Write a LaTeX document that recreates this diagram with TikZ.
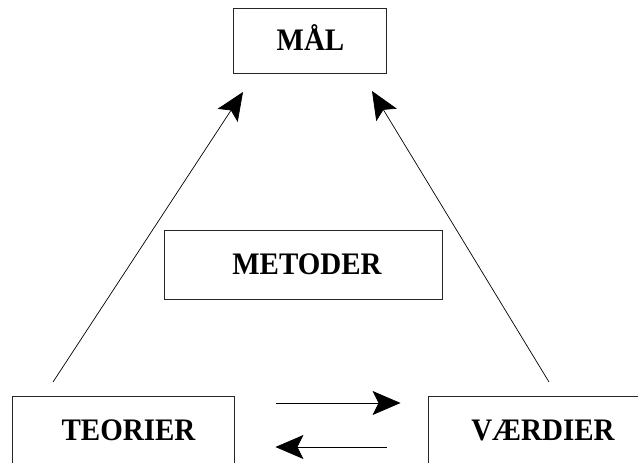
\documentclass[tikz,border=0pt]{standalone}
\usepackage{fontspec}
\setmainfont{Liberation Serif}
\usetikzlibrary{arrows.meta}
% slightly tall bold caption text for the boxes
\newcommand{\tallcaps}[1]{\scalebox{1}[1.08]{#1}}
\begin{document}
\begin{tikzpicture}[x=1pt,y=-1pt,
  box/.style={draw=black!85, line width=0.9pt, rectangle, inner sep=0pt,
    text height=20.5pt, text depth=0pt,
    font=\fontsize{29}{29}\selectfont\bfseries},
  arr/.style={line width=0.7pt,
    -{Stealth[length=28pt,width=24pt,inset=6pt]}}]
  \useasboundingbox (0,0) rectangle (638,463);
  \clip (0,0) rectangle (638,463);

  % boxes
  \node[box, minimum width=153pt, minimum height=65pt] (mal) at (309.5,40.5)
    {\hspace*{2pt}\tallcaps{MÅL}};
  \node[box, minimum width=278pt, minimum height=69pt] (metoder) at (303,264.5)
    {\hspace*{8pt}\tallcaps{METODER}};
  \node[box, minimum width=222pt, minimum height=69pt] (teorier) at (123,430.5)
    {\hspace*{11pt}\tallcaps{TEORIER}};
  \node[box, minimum width=230pt, minimum height=69pt] (vaerdier) at (543,430.5)
    {\tallcaps{VÆRDIER}};

  % free ends of the diagonal arrows
  \coordinate (tstart) at (53,382);
  \coordinate (tend) at (243,92);
  \coordinate (vstart) at (549,382);
  \coordinate (vend) at (372,91);

  \draw[arr] (tstart) -- (tend);
  \draw[arr] (vstart) -- (vend);

  % two-way exchange between the bottom boxes
  \draw[arr, shorten <=42pt, shorten >=27pt]
    ([yshift=27.5pt]teorier.east) -- ([yshift=27.5pt]vaerdier.west);
  \draw[arr, shorten <=41pt, shorten >=41pt]
    ([yshift=-16.5pt]vaerdier.west) -- ([yshift=-16.5pt]teorier.east);
\end{tikzpicture}
\end{document}
